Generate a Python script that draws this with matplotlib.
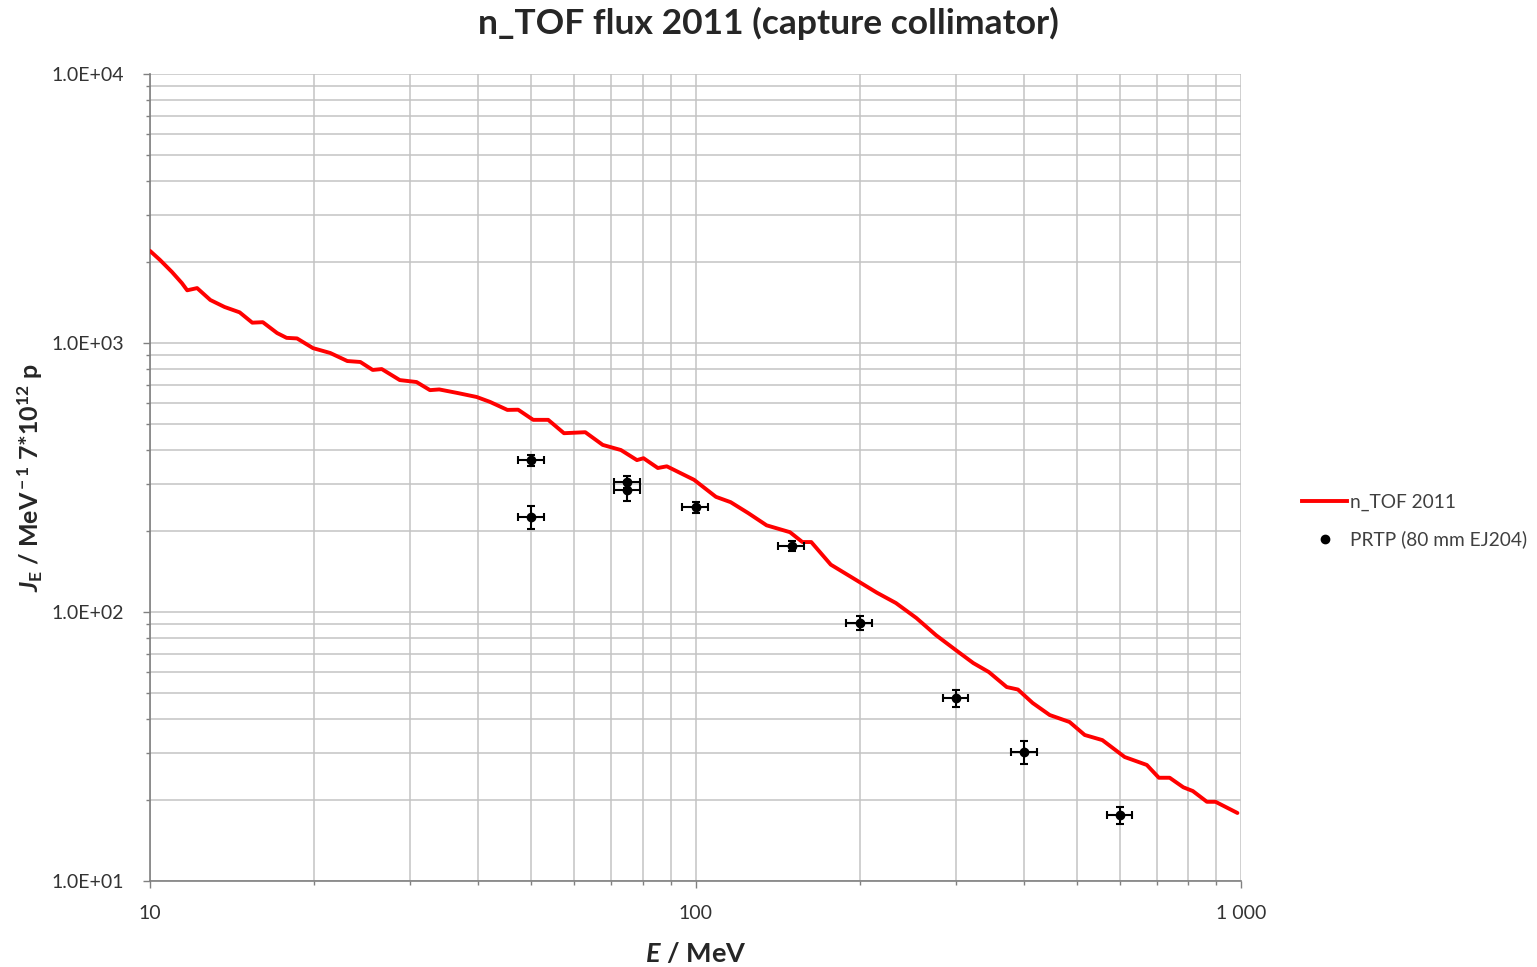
import matplotlib
matplotlib.use("Agg")
import matplotlib.pyplot as plt
from matplotlib.lines import Line2D
from matplotlib.ticker import LogLocator, NullFormatter, FixedLocator, FixedFormatter

plt.rcParams['font.family'] = ['Lato', 'DejaVu Sans']
plt.rcParams['mathtext.fontset'] = 'custom'
plt.rcParams['mathtext.rm'] = 'Lato:bold'
plt.rcParams['mathtext.it'] = 'Lato:italic:bold'
plt.rcParams['mathtext.bf'] = 'Lato:bold'

# n_TOF 2011 flux curve
flux_E = [10, 10.43, 10.97, 11.44, 11.7, 12.2, 12.9, 13.7, 14.6, 15.4, 16.1, 17.1, 17.8,
          18.6, 19.9, 21.4, 23.0, 24.3, 25.6, 26.6, 28.7, 30.8, 32.6, 33.9, 36.6, 39.7,
          42.0, 45.2, 47.3, 50.4, 53.7, 57.4, 62.8, 67.6, 73.0, 78.1, 80.3, 85.3, 88.6,
          99.4, 109, 116, 125, 135, 149, 157, 163, 177, 194, 215, 233, 254, 276, 300,
          323, 345, 372, 390, 415, 446, 485, 517, 557, 612, 672, 707, 740, 784, 816,
          866, 898, 985]
flux_J = [2200, 2036, 1837, 1670, 1570, 1600, 1445, 1361, 1300, 1190, 1195, 1089, 1045,
          1040, 957, 918, 857, 850, 794, 800, 728, 716, 668, 672, 652, 630,
          604, 564, 565, 518, 518, 462, 466, 418, 400, 367, 373, 343, 348,
          310, 268, 256, 233, 210, 198, 182, 182, 150, 134, 118, 108, 95, 82, 72.2,
          64.6, 59.8, 52.6, 51.5, 45.9, 41.4, 39.0, 34.9, 33.4, 28.9, 27.0, 24.2, 24.2, 22.3, 21.6,
          19.7, 19.7, 17.9]

# PRTP measurements
prtp_E = [50, 50, 75, 75, 100, 150, 200, 300, 400, 600]
prtp_J = [367, 225, 305, 283, 245, 176, 91, 47.9, 30.2, 17.6]
prtp_xerr = [2.7, 2.7, 4.0, 4.0, 5.4, 8.1, 11, 16, 22, 32]
prtp_yerr = [18, 22, 15, 25, 12, 8, 5.5, 3.5, 3.0, 1.3]

xtick_vals = [10, 100, 1000]
xtick_labels = ["10", "100", "1 000"]
ytick_vals = [10, 100, 1000, 10000]
ytick_labels = ["1.0E+01", "1.0E+02", "1.0E+03", "1.0E+04"]

W, H = 1537, 967
fig = plt.figure(figsize=(W / 100, H / 100), dpi=100)
ax = fig.add_axes([150 / W, 1 - 881 / H, (1241 - 150) / W, (881 - 74) / H])

ax.set_xscale('log')
ax.set_yscale('log')
ax.set_xlim(10, 1000)
ax.set_ylim(10, 10000)

gridc = '#c3c3c3'
ax.grid(True, which='both', color=gridc, linewidth=1.1)
ax.set_axisbelow(True)

ax.plot(flux_E, flux_J, color='#ff0000', linewidth=2.8, zorder=3,
        solid_joinstyle='round', solid_capstyle='round')
ax.errorbar(prtp_E, prtp_J, xerr=prtp_xerr, yerr=prtp_yerr, fmt='o', color='black',
            markersize=6, capsize=3, elinewidth=1.5, capthick=1.5, zorder=4)

ax.xaxis.set_major_locator(FixedLocator(xtick_vals))
ax.xaxis.set_major_formatter(FixedFormatter(xtick_labels))
ax.yaxis.set_major_locator(FixedLocator(ytick_vals))
ax.yaxis.set_major_formatter(FixedFormatter(ytick_labels))
ax.xaxis.set_minor_locator(LogLocator(base=10, subs=range(2, 10)))
ax.yaxis.set_minor_locator(LogLocator(base=10, subs=range(2, 10)))
ax.xaxis.set_minor_formatter(NullFormatter())
ax.yaxis.set_minor_formatter(NullFormatter())

for s in ['top', 'right']:
    ax.spines[s].set_visible(False)
for s in ['left', 'bottom']:
    ax.spines[s].set_color('#808080')
    ax.spines[s].set_linewidth(1.2)

ax.tick_params(axis='both', which='both', colors='#808080', labelcolor='#333333',
               labelsize=14)
ax.tick_params(axis='both', which='major', length=5, width=1)
ax.tick_params(axis='both', which='minor', length=3, width=1)
ax.tick_params(axis='x', which='major', pad=12)
ax.tick_params(axis='y', which='major', pad=14)

ax.set_xlabel(r'$\it{E}$ / MeV', fontsize=19.5, fontweight='bold', labelpad=14, color='#262626')
ax.set_ylabel(r'$\it{J}_{\rm E}$ / MeV$^{\rm -1}$ 7*10$^{\rm 12}$ p', fontsize=18,
              fontweight='bold', labelpad=4, color='#262626')

fig.suptitle('n_TOF flux 2011 (capture collimator)', x=0.5, y=0.993, fontsize=25.5,
             fontweight='bold', color='#262626', va='top')

handles = [Line2D([], [], color='#ff0000', linewidth=2.8),
           Line2D([], [], color='black', marker='o', linestyle='None', markersize=6)]
labels = ['n_TOF 2011', 'PRTP (80 mm EJ204)']
ax.legend(handles, labels, loc='center left', bbox_to_anchor=(1285 / W, 1 - 521 / H),
          bbox_transform=fig.transFigure, frameon=False, fontsize=13.8,
          handlelength=2.35, handletextpad=0.15, labelspacing=1.05,
          labelcolor='#404040')

fig.savefig('out.png', dpi=100)
